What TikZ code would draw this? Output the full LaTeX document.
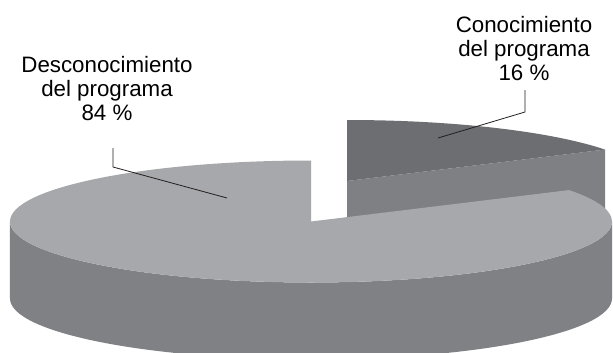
\documentclass[tikz,border=0pt]{standalone}
\usepackage{fontspec}
\setmainfont{Liberation Sans}
\definecolor{bigtop}{HTML}{A7A8AB}
\definecolor{bigside}{HTML}{808184}
\definecolor{smalltop}{HTML}{6D6E71}
\definecolor{smallface}{HTML}{7F8083}
\definecolor{leadcol}{HTML}{231F20}
\tikzset{
  lbl/.style={align=center, inner sep=0pt, font=\fontsize{22.4}{24.2}\selectfont, text=black},
  leaderline/.style={draw=leadcol, line width=0.8bp},
  ell/.style={x radius=301bp, y radius=61bp}
}
\begin{document}
\begin{tikzpicture}[x=1bp,y=1bp]
\useasboundingbox (0,0) rectangle (613,352);
\clip (0,0) rectangle (613,352);
% small (exploded) slice
\coordinate (c2) at (347,171);
\coordinate (c2b) at (347,94);
\path (c2) ++(31:301bp and 61bp) coordinate (p2);
\fill[smallface] (c2) -- (p2) -- ++(0,-77) -- (c2b) -- cycle;
\fill[smalltop] (c2) -- (p2) arc[start angle=31, end angle=90, ell] -- cycle;
% big slice
\coordinate (c1) at (311,130.5);
\fill[bigside] (c1) ++(180:301bp and 61bp) arc[start angle=180, end angle=360, ell]
  -- ++(0,-77) arc[start angle=360, end angle=180, ell] -- cycle;
\fill[bigtop] (c1) -- ++(90:301bp and 61bp) arc[start angle=90, end angle=391, ell] -- cycle;
% labels
\node[lbl, anchor=north] (desc) at (107,296.3) {Desconocimiento\\del programa\\84 \%};
\node[lbl, anchor=north] (conoc) at (524,336.3) {Conocimiento\\del programa\\16 \%};
% leader lines
\coordinate (l1) at (113,204);
\coordinate (l2) at (113,185);
\coordinate (l3) at (227,154);
\coordinate (r1) at (525,262);
\coordinate (r2) at (525,240);
\coordinate (r3) at (438,214);
\draw[leaderline] (l1) -- (l2) -- (l3);
\draw[leaderline] (r1) -- (r2) -- (r3);
\end{tikzpicture}
\end{document}
